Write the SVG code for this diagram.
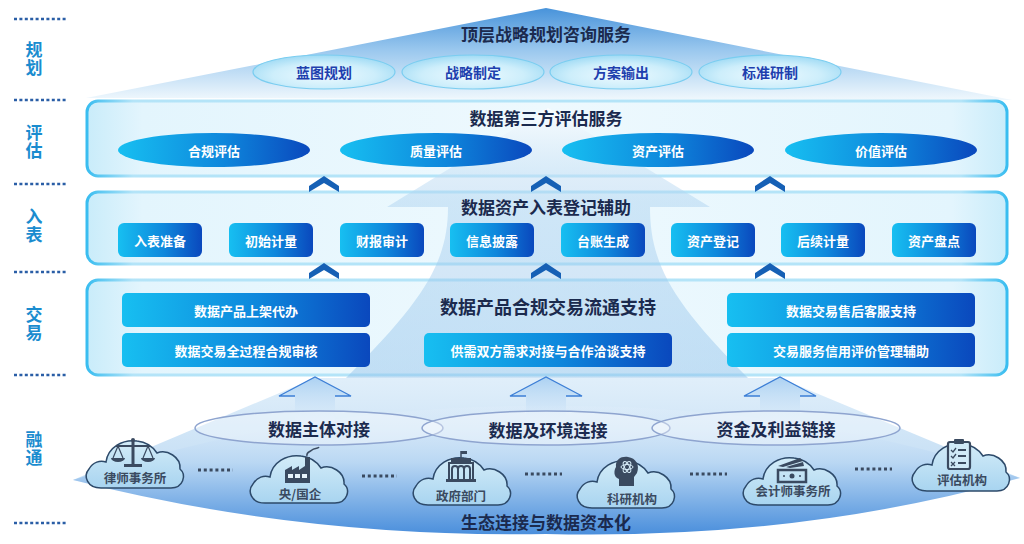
<svg xmlns="http://www.w3.org/2000/svg" width="1024" height="544" viewBox="0 0 1024 544">
<defs>
<linearGradient id="pyr" x1="0" y1="8" x2="0" y2="100" gradientUnits="userSpaceOnUse">
<stop offset="0" stop-color="#4893da"/><stop offset="0.45" stop-color="#99c7ee"/><stop offset="1" stop-color="#f0f8fd"/>
</linearGradient>
<radialGradient id="topEl" cx="0.5" cy="0.6" r="0.6">
<stop offset="0" stop-color="#eefaff"/><stop offset="0.6" stop-color="#cdeefb"/><stop offset="1" stop-color="#9fdaf4"/>
</radialGradient>
<linearGradient id="panelFill" x1="0" y1="0" x2="1" y2="0">
<stop offset="0" stop-color="#c9ecfa"/><stop offset="0.06" stop-color="#e3f5fd"/><stop offset="0.5" stop-color="#eef9fe"/><stop offset="0.94" stop-color="#e3f5fd"/><stop offset="1" stop-color="#c9ecfa"/>
</linearGradient>
<linearGradient id="panelStroke" x1="0" y1="0" x2="1" y2="0">
<stop offset="0" stop-color="#39bdf0"/><stop offset="0.05" stop-color="#b4e4f8"/><stop offset="0.95" stop-color="#b4e4f8"/><stop offset="1" stop-color="#39bdf0"/>
</linearGradient>
<linearGradient id="box" x1="0" y1="0" x2="1" y2="0">
<stop offset="0" stop-color="#17bff1"/><stop offset="0.55" stop-color="#0e87dc"/><stop offset="1" stop-color="#0a48bd"/>
</linearGradient>
<linearGradient id="bigArrow" x1="0" y1="108" x2="0" y2="378" gradientUnits="userSpaceOnUse">
<stop offset="0" stop-color="#ffffff" stop-opacity="0.7"/><stop offset="0.35" stop-color="#a9d0ef" stop-opacity="0.45"/><stop offset="1" stop-color="#8fc0ea" stop-opacity="0.45"/>
</linearGradient>
<linearGradient id="fan" x1="0" y1="376" x2="0" y2="500" gradientUnits="userSpaceOnUse">
<stop offset="0" stop-color="#d9ebf9" stop-opacity="0.8"/><stop offset="1" stop-color="#b3d4f1" stop-opacity="0.9"/>
</linearGradient>
<linearGradient id="plat" x1="0" y1="405" x2="0" y2="534" gradientUnits="userSpaceOnUse">
<stop offset="0" stop-color="#e4f0fb" stop-opacity="0.2"/><stop offset="0.45" stop-color="#b9d7f3"/><stop offset="1" stop-color="#4b8fdc"/>
</linearGradient>
<linearGradient id="smallArrow" x1="0" y1="376" x2="0" y2="430" gradientUnits="userSpaceOnUse">
<stop offset="0" stop-color="#a9d0f2"/><stop offset="1" stop-color="#e6f1fb" stop-opacity="0.3"/>
</linearGradient>
<linearGradient id="cloudFill" x1="0" y1="0" x2="0" y2="1">
<stop offset="0" stop-color="#d3ecf8"/><stop offset="1" stop-color="#a8d4f0"/>
</linearGradient>
<path id="cloud" d="M18,53 C4,53 0,41 6,34 C10,27 17,25 23,27 C25,12 40,4 54,6 C64,7 70,12 74,18 C84,14 98,22 97,34 C104,40 100,53 88,53 Z"/>
<path id="chev" d="M0,0 L15,10 L15,16 L0,7 L-15,16 L-15,10 Z"/>
<style>
text{font-family:"Noto Sans CJK SC","Noto Sans CJK JP","Noto Sans",sans-serif;font-weight:700;text-anchor:middle;dominant-baseline:central}
.side{font-size:17px;fill:#1a8ccf;writing-mode:vertical-rl;letter-spacing:1px}
.title{font-size:17px;fill:#1b2a4e}
.topt{font-size:14px;fill:#1e3fae}
.wt{font-size:13px;fill:#ffffff}
.cl{font-size:12.5px;fill:#3a4a60}
.dots{stroke:#2a5ea6;stroke-width:2.5;stroke-dasharray:3 2.4;fill:none}
.cdots{stroke:#3a4a60;stroke-width:3;stroke-dasharray:3 2.8;fill:none}
.panel{fill:url(#panelFill);stroke:url(#panelStroke);stroke-width:3}
.topEl{fill:url(#topEl);stroke:#7acdf0;stroke-width:1.2}
.evEl{fill:url(#box)}
.box{fill:url(#box)}
.chev{fill:#1660b5}
.ring{fill:#ffffff;fill-opacity:0.35;stroke:#8ea4cf;stroke-width:1.5}
.cloud{fill:url(#cloudFill);stroke:#2d4a6a;stroke-width:1.5}
.ic{fill:#3a4a60}
.ics{stroke:#3a4a60;fill:none}
.atom{stroke:#d6ecf8;fill:none;stroke-width:1}
</style>
</defs>

<g id="side-labels">
<path class="dots" d="M14,19H67M14,100H67M14,184H67M14,272H67M14,375H67M14,523H67"/>
<text class="side" x="34" y="59">规划</text>
<text class="side" x="34" y="142">评估</text>
<text class="side" x="34" y="226">入表</text>
<text class="side" x="34" y="324">交易</text>
<text class="side" x="34" y="449">融通</text>
</g>

<g id="layer-plan">
<polygon points="546,8 1012,100 86,98" fill="url(#pyr)"/>
<text class="title" x="546" y="33">顶层战略规划咨询服务</text>
<g id="plan-1"><ellipse class="topEl" cx="324" cy="72" rx="71" ry="17"/><text class="topt" x="324" y="72">蓝图规划</text></g>
<g id="plan-2"><ellipse class="topEl" cx="473" cy="72" rx="71" ry="17"/><text class="topt" x="473" y="72">战略制定</text></g>
<g id="plan-3"><ellipse class="topEl" cx="621" cy="72" rx="71" ry="17"/><text class="topt" x="621" y="72">方案输出</text></g>
<g id="plan-4"><ellipse class="topEl" cx="770" cy="72" rx="71" ry="17"/><text class="topt" x="770" y="72">标准研制</text></g>
</g>

<g id="panels">
<rect class="panel" x="87" y="101" width="920" height="75" rx="11"/>
<rect class="panel" x="87" y="192" width="920" height="72" rx="11"/>
<rect class="panel" x="87" y="280" width="920" height="95" rx="11"/>
</g>

<g id="bottom-base">
<polygon points="315,378 780,378 1020,478 546,505 73,480" fill="url(#fan)"/>
<path d="M73,480 Q300,404 546,406 Q800,404 1020,478 Q800,540 546,534 Q300,538 73,480 Z" fill="url(#plat)"/>
</g>

<g id="connectors">
<path d="M548,108 L710,207 L650,207 C650,262 670,300 748,378 L346,378 C424,300 448,262 448,207 L387,207 Z" fill="url(#bigArrow)"/>
<use href="#chev" class="chev" x="324" y="176"/>
<use href="#chev" class="chev" x="546" y="176"/>
<use href="#chev" class="chev" x="770" y="176"/>
<use href="#chev" class="chev" x="324" y="263"/>
<use href="#chev" class="chev" x="546" y="263"/>
<use href="#chev" class="chev" x="770" y="263"/>
<g id="up-arrows">
<path d="M315,377 L351,396 L335,396 L335,428 L295,428 L295,396 L279,396 Z" fill="url(#smallArrow)"/>
<path d="M295,396 L279,396 L315,377 L351,396 L335,396" fill="none" stroke="#3d7fd6" stroke-width="1.3"/>
<path d="M546,377 L582,396 L566,396 L566,428 L526,428 L526,396 L510,396 Z" fill="url(#smallArrow)"/>
<path d="M526,396 L510,396 L546,377 L582,396 L566,396" fill="none" stroke="#3d7fd6" stroke-width="1.3"/>
<path d="M780,377 L816,396 L800,396 L800,428 L760,428 L760,396 L744,396 Z" fill="url(#smallArrow)"/>
<path d="M760,396 L744,396 L780,377 L816,396 L800,396" fill="none" stroke="#3d7fd6" stroke-width="1.3"/>
</g>
<path class="cdots" d="M198,470H233M362,476H397M525,474H562M690,474H727M855,469H892"/>
</g>

<g id="layer-eval">
<text class="title" x="546" y="117">数据第三方评估服务</text>
<g id="eval-1"><ellipse class="evEl" cx="214" cy="150" rx="96" ry="17"/><text class="wt" x="214" y="150">合规评估</text></g>
<g id="eval-2"><ellipse class="evEl" cx="436" cy="150" rx="96" ry="17"/><text class="wt" x="436" y="150">质量评估</text></g>
<g id="eval-3"><ellipse class="evEl" cx="658" cy="150" rx="96" ry="17"/><text class="wt" x="658" y="150">资产评估</text></g>
<g id="eval-4"><ellipse class="evEl" cx="881" cy="150" rx="96" ry="17"/><text class="wt" x="881" y="150">价值评估</text></g>
</g>

<g id="layer-book">
<text class="title" x="546" y="206">数据资产入表登记辅助</text>
<g id="book-1"><rect class="box" x="118" y="223" width="84" height="34" rx="6"/><text class="wt" x="160" y="240">入表准备</text></g>
<g id="book-2"><rect class="box" x="229" y="223" width="84" height="34" rx="6"/><text class="wt" x="271" y="240">初始计量</text></g>
<g id="book-3"><rect class="box" x="340" y="223" width="84" height="34" rx="6"/><text class="wt" x="382" y="240">财报审计</text></g>
<g id="book-4"><rect class="box" x="450" y="223" width="84" height="34" rx="6"/><text class="wt" x="492" y="240">信息披露</text></g>
<g id="book-5"><rect class="box" x="561" y="223" width="84" height="34" rx="6"/><text class="wt" x="603" y="240">台账生成</text></g>
<g id="book-6"><rect class="box" x="671" y="223" width="84" height="34" rx="6"/><text class="wt" x="713" y="240">资产登记</text></g>
<g id="book-7"><rect class="box" x="781" y="223" width="84" height="34" rx="6"/><text class="wt" x="823" y="240">后续计量</text></g>
<g id="book-8"><rect class="box" x="892" y="223" width="84" height="34" rx="6"/><text class="wt" x="934" y="240">资产盘点</text></g>
</g>

<g id="layer-trade">
<text class="title" x="548" y="306" style="font-size:18px">数据产品合规交易流通支持</text>
<g id="trade-1"><rect class="box" x="122" y="293" width="248" height="34" rx="5"/><text class="wt" x="246" y="310">数据产品上架代办</text></g>
<g id="trade-2"><rect class="box" x="122" y="333" width="248" height="34" rx="5"/><text class="wt" x="246" y="350">数据交易全过程合规审核</text></g>
<g id="trade-3"><rect class="box" x="424" y="333" width="248" height="34" rx="5"/><text class="wt" x="548" y="350">供需双方需求对接与合作洽谈支持</text></g>
<g id="trade-4"><rect class="box" x="727" y="293" width="248" height="34" rx="5"/><text class="wt" x="851" y="310">数据交易售后客服支持</text></g>
<g id="trade-5"><rect class="box" x="727" y="333" width="248" height="34" rx="5"/><text class="wt" x="851" y="350">交易服务信用评价管理辅助</text></g>
</g>

<g id="layer-link">
<g id="link-1"><ellipse class="ring" cx="319" cy="428" rx="124" ry="17"/></g>
<g id="link-2"><ellipse class="ring" cx="546" cy="428" rx="124" ry="17"/></g>
<g id="link-3"><ellipse class="ring" cx="776" cy="428" rx="124" ry="17"/></g>
<text class="title" x="319" y="428">数据主体对接</text>
<text class="title" x="548" y="429">数据及环境连接</text>
<text class="title" x="776" y="428">资金及利益链接</text>
</g>

<g id="cloud-law">
<use href="#cloud" class="cloud" x="83" y="435"/>
<circle class="ic" cx="133" cy="440" r="2"/>
<rect class="ic" x="131.5" y="441" width="3" height="24"/>
<path class="ics" stroke-width="2.2" d="M116,446H150"/>
<path class="ics" stroke-width="1.2" d="M118,446L113,458M118,446L123,458M148,446L143,458M148,446L153,458"/>
<path class="ic" d="M111,458H125A7,4 0 0 1 111,458Z M141,458H155A7,4 0 0 1 141,458Z"/>
<rect class="ic" x="124" y="464" width="18" height="3"/>
<text class="cl" x="135" y="477">律师事务所</text>
</g>
<g id="cloud-soe">
<use href="#cloud" class="cloud" x="247" y="450"/>
<path class="ic" d="M285,483V470L292,466V470L299,466V470L305,466V457H310V483Z"/>
<path class="ics" stroke-width="1.5" d="M307,456C306,452 310,452 312,450C314,448 318,449 319,447"/>
<rect x="288" y="474" width="5" height="4" fill="#e6f3fb"/><rect x="295" y="474" width="5" height="4" fill="#e6f3fb"/><rect x="302" y="474" width="5" height="4" fill="#e6f3fb"/>
<text class="cl" x="300" y="493">央/国企</text>
</g>
<g id="cloud-gov">
<use href="#cloud" class="cloud" x="410" y="452"/>
<path class="ics" stroke-width="1.5" d="M461,451V458"/>
<path class="ic" d="M461,451h6v3h-6z"/>
<rect class="ic" x="451" y="458" width="20" height="4"/>
<path class="ics" stroke-width="2" d="M449,480V463H473V480M452,479V469A3,3 0 0 1 458,469V479M458,479V469A3,3 0 0 1 464,469V479M464,479V469A3,3 0 0 1 470,469V479"/>
<rect class="ic" x="446" y="479" width="30" height="3"/>
<text class="cl" x="461" y="495">政府部门</text>
</g>
<g id="cloud-res">
<use href="#cloud" class="cloud" x="574" y="455"/>
<path class="ic" d="M619,486V479C613,477 614,470 616,467C615,459 622,456 628,457C636,458 640,465 637,473L634,477V486Z"/>
<ellipse class="atom" cx="627" cy="467" rx="6" ry="2.5"/><ellipse class="atom" cx="627" cy="467" rx="6" ry="2.5" transform="rotate(60 627 467)"/><ellipse class="atom" cx="627" cy="467" rx="6" ry="2.5" transform="rotate(-60 627 467)"/>
<text class="cl" x="632" y="498">科研机构</text>
</g>
<g id="cloud-acc">
<use href="#cloud" class="cloud" x="740" y="452"/>
<path class="ics" stroke-width="2.5" d="M778,470H806V482H778Z"/>
<path class="ic" d="M778,466L800,458L803,461L783,467Z M786,467L803,462L804,466L790,468Z"/>
<circle class="ic" cx="792" cy="476" r="2.5"/><circle class="ic" cx="784" cy="476" r="1"/><circle class="ic" cx="800" cy="476" r="1"/>
<text class="cl" x="793" y="490">会计师事务所</text>
</g>
<g id="cloud-eva">
<use href="#cloud" class="cloud" x="909" y="438"/>
<rect x="948" y="442" width="22" height="27" rx="2" fill="#d0eaf8" stroke="#3a4a60" stroke-width="2.2"/>
<rect class="ic" x="954" y="439" width="10" height="5" rx="1"/>
<path class="ics" stroke-width="1.3" d="M951,450L953,452L956,448M951,456L953,458L956,454M951,462L955,466M955,462L951,466"/>
<path class="ics" stroke-width="2" d="M958,450H966M958,456H966M958,463H966"/>
<text class="cl" x="962" y="479">评估机构</text>
</g>

<g id="base-label">
<text class="title" x="546" y="521">生态连接与数据资本化</text>
</g>
</svg>
